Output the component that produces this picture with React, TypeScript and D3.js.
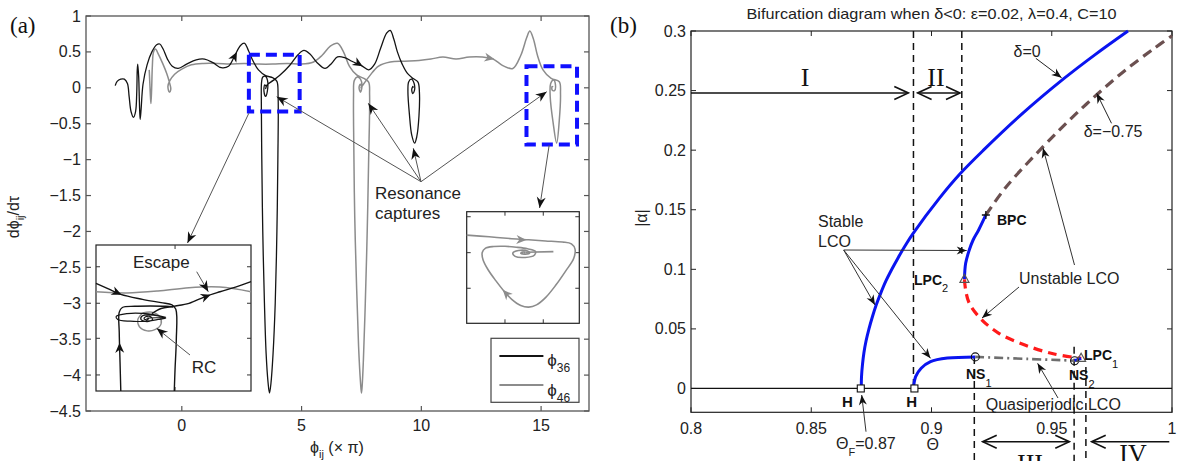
import React from 'react';
import * as d3 from 'd3';

type P = [number, number];

// ---------- panel (a): phase trajectories ----------
const phiTicks = [0, 5, 10, 15];
const dphiTicks = [1, 0.5, 0, -0.5, -1, -1.5, -2, -2.5, -3, -3.5, -4, -4.5];

// phi_36 trajectory (phi in units of pi, dphi/dtau)
const phi36: P[] = [
  [-2.78, 0.03], [-2.7, 0.09], [-2.55, 0.12], [-2.4, 0.12], [-2.27, 0.06], [-2.2, -0.12], [-2.12, -0.33],
  [-2.02, -0.41], [-1.93, -0.33], [-1.88, -0.05], [-1.86, 0.25], [-1.84, 0.33], [-1.8, 0.15], [-1.77, -0.2],
  [-1.74, -0.44], [-1.7, -0.3], [-1.62, 0.05], [-1.45, 0.32], [-1.25, 0.5], [-1.05, 0.6], [-0.92, 0.61],
  [-0.78, 0.54], [-0.6, 0.4], [-0.4, 0.3], [-0.15, 0.27], [0.2, 0.33], [0.6, 0.39], [0.95, 0.4], [1.3, 0.35],
  [1.65, 0.28], [1.95, 0.3], [2.2, 0.44], [2.45, 0.59], [2.62, 0.62], [2.78, 0.52], [2.98, 0.37], [3.2, 0.25],
  [3.5, 0.17], [3.8, 0.14], [3.97, 0.09], [4.02, -0.12], [4.01, -1.0], [3.97, -2.0], [3.9, -3.0], [3.81, -3.7],
  [3.72, -4.12], [3.66, -4.25], [3.6, -4.1], [3.52, -3.7], [3.45, -3.0], [3.38, -2.0], [3.34, -1.0],
  [3.32, -0.2], [3.33, 0.08], [3.38, 0.15], [3.5, 0.16], [3.58, 0.1], [3.57, -0.05], [3.5, -0.12],
  [3.43, -0.05], [3.46, 0.04], [3.52, 0.02], [3.5, -0.01],
  [3.56, 0.04], [3.8, 0.1], [4.08, 0.17], [4.5, 0.31], [4.85, 0.46], [5.1, 0.52], [5.35, 0.47], [5.65, 0.35],
  [5.98, 0.27], [6.25, 0.34], [6.5, 0.43], [6.8, 0.42], [7.1, 0.37], [7.5, 0.31], [7.8, 0.25], [8.05, 0.33],
  [8.3, 0.55], [8.55, 0.76], [8.7, 0.8], [8.85, 0.68], [9.0, 0.5], [9.2, 0.33], [9.42, 0.2], [9.66, 0.13],
  [9.86, 0.08], [9.92, -0.06], [9.9, -0.4], [9.81, -0.68], [9.72, -0.77], [9.6, -0.66], [9.5, -0.36],
  [9.44, -0.05], [9.47, 0.08], [9.58, 0.12], [9.7, 0.06], [9.71, -0.04], [9.64, -0.08], [9.6, -0.02],
  [9.65, 0.02], [9.66, 0.0],
];

// phi_46 trajectory
const phi46: P[] = [
  [-1.36, 0.25], [-1.32, -0.05], [-1.29, -0.22], [-1.26, -0.02], [-1.23, 0.3], [-1.18, 0.5], [-1.1, 0.54],
  [-0.98, 0.47], [-0.8, 0.34], [-0.63, 0.2], [-0.52, 0.08], [-0.46, -0.02], [-0.52, -0.06], [-0.58, 0.02],
  [-0.5, 0.1], [-0.3, 0.19], [0.0, 0.26], [0.4, 0.32], [0.9, 0.34], [1.5, 0.34], [2.0, 0.33], [2.6, 0.34],
  [3.2, 0.33], [3.8, 0.33], [4.4, 0.34], [5.0, 0.33], [5.5, 0.36], [5.85, 0.45], [6.2, 0.58], [6.5, 0.62],
  [6.75, 0.5], [7.0, 0.3], [7.3, 0.18], [7.6, 0.13], [7.8, 0.08], [7.84, -0.1], [7.8, -1.0], [7.74, -2.0],
  [7.66, -3.0], [7.58, -3.8], [7.53, -4.15], [7.5, -4.25], [7.46, -4.1], [7.38, -3.6], [7.3, -2.8],
  [7.22, -1.8], [7.18, -0.8], [7.17, -0.1], [7.2, 0.1], [7.32, 0.15], [7.46, 0.12], [7.52, 0.02],
  [7.46, -0.06], [7.4, 0.0], [7.45, 0.05], [7.5, 0.02], [7.48, 0.0],
  [7.56, 0.04], [7.85, 0.17], [8.2, 0.3], [8.7, 0.36], [9.3, 0.37], [9.9, 0.38], [10.4, 0.4], [10.9, 0.43],
  [11.45, 0.4], [12.0, 0.43], [12.55, 0.43], [13.0, 0.4], [13.4, 0.31], [13.82, 0.27], [14.15, 0.45],
  [14.4, 0.7], [14.53, 0.79], [14.68, 0.68], [14.85, 0.45], [15.08, 0.25], [15.42, 0.13], [15.76, 0.085],
  [15.81, -0.08], [15.76, -0.45], [15.65, -0.77], [15.5, -0.48], [15.38, -0.12], [15.4, 0.06],
  [15.52, 0.11], [15.6, 0.04], [15.56, -0.04], [15.46, -0.03], [15.46, 0.02], [15.5, 0.01],
];

// direction arrows on the trajectories: [from, to]
const arrows36: [P, P][] = [[[2.1, 0.37], [2.3, 0.5]], [[7.3, 0.35], [7.55, 0.3]]];
const arrows46: [P, P][] = [[[12.75, 0.42], [13.05, 0.4]]];

// resonance capture regions: [phi0, phi1, v0, v1]
const captureBoxes = [[2.8, 4.92, -0.33, 0.46], [14.39, 16.5, -0.79, 0.3]];

// inset 1 (normalised 0..1 inset coordinates)
const in1Grey: P[] = [[0, 0.68], [0.2, 0.672], [0.4, 0.685], [0.6, 0.708], [0.8, 0.712], [1, 0.68]];
const in1Incoming: P[] = [[0, 0.737], [0.08, 0.7], [0.16, 0.662], [0.3, 0.628], [0.42, 0.605], [0.49, 0.59],
  [0.515, 0.56], [0.518, 0.35], [0.51, 0.15], [0.505, 0]];
const in1Return: P[] = [[0.16, 0], [0.155, 0.2], [0.15, 0.4], [0.15, 0.54], [0.17, 0.572], [0.25, 0.58],
  [0.35, 0.582], [0.45, 0.58], [0.5, 0.575]];
const in1Oval: P[] = [[0.45, 0.505], [0.38, 0.522], [0.3, 0.532], [0.2, 0.53], [0.13, 0.51], [0.14, 0.49],
  [0.22, 0.478], [0.32, 0.478], [0.4, 0.49], [0.45, 0.5], [0.37, 0.52], [0.3, 0.515], [0.29, 0.49],
  [0.33, 0.475], [0.365, 0.49], [0.35, 0.51], [0.32, 0.508], [0.31, 0.495], [0.33, 0.488], [0.34, 0.498],
  [0.328, 0.5], [0.44, 0.503]];
const in1Tear: P[] = [[0.3, 0.535], [0.27, 0.49], [0.28, 0.44], [0.33, 0.412], [0.38, 0.42], [0.42, 0.46],
  [0.41, 0.51], [0.36, 0.54], [0.3, 0.535]];
const in1Escape: P[] = [[0.36, 0.53], [0.42, 0.565], [0.5, 0.58], [0.6, 0.6], [0.7, 0.645], [0.8, 0.68],
  [0.9, 0.712], [1, 0.749]];
const in1Arrows: [P, P][] = [[[0.09, 0.695], [0.165, 0.66]], [[0.66, 0.628], [0.74, 0.66]], [[0.153, 0.25], [0.152, 0.33]]];
const in1TicksV = [0.11, 0.361, 0.601, 0.851];
const in1TicksU = [0.51];

// inset 2
const in2Grey: P[] = [[0, 0.79], [0.2, 0.775], [0.4, 0.758], [0.55, 0.748], [0.7, 0.738], [0.85, 0.728],
  [0.93, 0.712], [0.962, 0.665], [0.95, 0.58], [0.88, 0.47], [0.79, 0.34], [0.7, 0.23], [0.62, 0.165],
  [0.55, 0.145], [0.48, 0.16], [0.4, 0.215], [0.33, 0.29], [0.26, 0.38], [0.19, 0.48], [0.145, 0.57],
  [0.138, 0.635], [0.165, 0.672], [0.24, 0.688], [0.34, 0.69], [0.44, 0.682], [0.54, 0.668], [0.61, 0.645],
  [0.6, 0.61], [0.52, 0.59], [0.43, 0.6], [0.41, 0.63], [0.46, 0.652], [0.54, 0.648], [0.56, 0.632],
  [0.52, 0.62], [0.48, 0.628], [0.5, 0.64], [0.52, 0.635]];
const in2Tail: P[] = [[0.52, 0.636], [0.77, 0.642]];
const in2Arrows: [P, P][] = [[[0.44, 0.752], [0.53, 0.747]], [[0.38, 0.235], [0.32, 0.3]]];
const in2TicksV = [0.314, 0.633, 0.955];
const in2TicksU = [0.34, 0.68];

const legendSeries = [
  { sub: '36', color: '#141414' },
  { sub: '46', color: '#8c8c8c' },
];

// ---------- panel (b): bifurcation diagram ----------
const thetaTicks = [0.8, 0.85, 0.9, 0.95, 1];
const alphaTicks = [0, 0.05, 0.1, 0.15, 0.2, 0.25, 0.3];

const stableD0: P[] = [[0.8708, 0], [0.8709, 0.01], [0.8713, 0.02], [0.8719, 0.03], [0.8728, 0.04],
  [0.874, 0.05], [0.8754, 0.06], [0.877, 0.07], [0.8789, 0.08], [0.881, 0.09], [0.8835, 0.1], [0.8862, 0.11],
  [0.8891, 0.12], [0.8923, 0.13], [0.9034, 0.16], [0.9118, 0.18], [0.9216, 0.2], [0.9374, 0.23],
  [0.955, 0.26], [0.9679, 0.28], [0.9817, 0.3]];
const unstableD075: P[] = [[0.9226, 0.1456], [0.9311, 0.1693], [0.9464, 0.2029], [0.958, 0.2265],
  [0.9687, 0.2465], [0.9802, 0.2665], [0.9925, 0.2853], [1.0, 0.296]];
const stableLpc2: P[] = [[0.9137, 0.0916], [0.9142, 0.105], [0.9157, 0.1162], [0.9173, 0.1246],
  [0.9196, 0.133], [0.9226, 0.1456]];
const unstableLco: P[] = [[0.9137, 0.0916], [0.9142, 0.0826], [0.9157, 0.0715], [0.9203, 0.0589],
  [0.928, 0.0463], [0.9388, 0.0365], [0.951, 0.0289], [0.9623, 0.0253]];
const stableLow: P[] = [[0.8925, 0], [0.8934, 0.0099], [0.8957, 0.017], [0.8996, 0.0225], [0.9066, 0.0255],
  [0.9182, 0.0265]];
const quasiLco: P[] = [[0.9182, 0.0265], [0.94, 0.0248], [0.9595, 0.0233]];
const stableTail: P[] = [[0.9595, 0.0233], [0.9622, 0.0253]];

const hopfPts: P[] = [[0.8706, 0], [0.8929, 0]];
const nsPts: P[] = [[0.9182, 0.0265], [0.9595, 0.0233]];
const lpcPts: P[] = [[0.9137, 0.0916], [0.9622, 0.0253]];
const bpcPts: P[] = [[0.9226, 0.1456]];

// regime boundaries: [theta, alpha from, alpha to]
const upperBounds = [[0.8925, 0.3, 0], [0.9126, 0.3, 0.113]];
const lowerBounds = [[0.9178, 0.0265], [0.9593, 0.035], [0.9642, 0.018]];

const W = 1179;
const H = 461;
const SANS = '"Liberation Sans", Arial, Helvetica, sans-serif';
const SERIF = '"Liberation Serif", "Times New Roman", serif';
const BLUE = '#0a14f0';

const fmt = (v: number) => (v < 0 ? '\u2212' + Math.abs(v) : String(v));

function Head({ id, fill, len = 11, half = 4.5 }: { id: string; fill: string; len?: number; half?: number }) {
  return (
    <marker id={id} viewBox={`${-len - 1} ${-half - 1} ${len + 2} ${2 * half + 2}`} refX={0} refY={0}
      markerWidth={len + 2} markerHeight={2 * half + 2} markerUnits="userSpaceOnUse" orient="auto">
      <path d={`M0,0 L${-len},${-half} L${-len * 0.7},0 L${-len},${half} Z`} fill={fill} />
    </marker>
  );
}

export default function App() {
  const xA = d3.scaleLinear().domain([-4, 17]).range([86, 589]);
  const yA = d3.scaleLinear().domain([-4.5, 1]).range([411, 16]);
  const xB = d3.scaleLinear().domain([0.8, 1]).range([691, 1172]);
  const yB = d3.scaleLinear().domain([-0.02, 0.3]).range([412.3, 31]);
  const ix1 = d3.scaleLinear().domain([0, 1]).range([96, 251]);
  const iy1 = d3.scaleLinear().domain([0, 1]).range([391, 245]);
  const ix2 = d3.scaleLinear().domain([0, 1]).range([466.7, 579.3]);
  const iy2 = d3.scaleLinear().domain([0, 1]).range([323.3, 211.7]);

  const mk = (x: d3.ScaleLinear<number, number>, y: d3.ScaleLinear<number, number>) =>
    d3.line<P>().x(d => x(d[0])).y(d => y(d[1])).curve(d3.curveCatmullRom.alpha(0.5));
  const lA = mk(xA, yA);
  const lB = mk(xB, yB);
  const l1 = mk(ix1, iy1);
  const l2 = mk(ix2, iy2);
  const seg = d3.line<P>().x(d => d[0]).y(d => d[1]);

  const dirArrows = (arr: [P, P][], line: d3.Line<P>, id: string) =>
    arr.map((a, i) => (
      <path key={id + i} d={line(a) || ''} fill="none" stroke="none" markerEnd={`url(#${id})`} />
    ));

  const annot = (x1: number, y1: number, x2: number, y2: number, color = '#555', head = 'headA') => (
    <line x1={x1} y1={y1} x2={x2} y2={y2} stroke={color} strokeWidth={1} markerEnd={`url(#${head})`} />
  );

  const axA = '#555';

  return (
    <svg width={W} height={H} style={{ position: 'absolute', left: 0, top: 0 }} fontFamily={SANS}>
      <defs>
        <Head id="headA" fill="#111" len={11} half={4.5} />
        <Head id="headB" fill="#111" len={10} half={4} />
        <Head id="tBlack" fill="#111" len={10} half={4.5} />
        <Head id="tGrey" fill="#8c8c8c" len={10} half={4.5} />
        <marker id="chev" viewBox="-16 -8 18 16" refX={0} refY={0} markerWidth={18} markerHeight={16}
          markerUnits="userSpaceOnUse" orient="auto-start-reverse">
          <path d="M-14,-6.5 L0,0 L-14,6.5" fill="none" stroke="#111" strokeWidth={1.6} />
        </marker>
      </defs>
      <rect x={0} y={0} width={W} height={H} fill="#fff" />

      {/* ================= panel (a) ================= */}
      <text x={10} y={33} fontFamily={SERIF} fontSize={23} fill="#111">(a)</text>
      <rect x={xA(-4)} y={yA(1)} width={xA(17) - xA(-4)} height={yA(-4.5) - yA(1)} fill="none" stroke={axA} strokeWidth={1.3} />
      {phiTicks.map(t => (
        <g key={'xa' + t}>
          <line x1={xA(t)} x2={xA(t)} y1={yA(-4.5)} y2={yA(-4.5) - 5} stroke={axA} strokeWidth={1.2} />
          <line x1={xA(t)} x2={xA(t)} y1={yA(1)} y2={yA(1) + 5} stroke={axA} strokeWidth={1.2} />
          <text x={xA(t)} y={431} textAnchor="middle" fontSize={16} fill="#222">{t}</text>
        </g>
      ))}
      {dphiTicks.map(t => (
        <g key={'ya' + t}>
          <line x1={xA(-4)} x2={xA(-4) + 5} y1={yA(t)} y2={yA(t)} stroke={axA} strokeWidth={1.2} />
          <line x1={xA(17)} x2={xA(17) - 5} y1={yA(t)} y2={yA(t)} stroke={axA} strokeWidth={1.2} />
          <text x={81} y={yA(t) + 5.5} textAnchor="end" fontSize={16} fill="#222">{fmt(t)}</text>
        </g>
      ))}
      <text x={310} y={453} fontSize={16} fill="#222">
        {'\u03d5'}<tspan dy={5} fontSize={11}>ij</tspan><tspan dy={-5}>{' (\u00d7 \u03c0)'}</tspan>
      </text>
      <text transform="translate(19,217) rotate(-90)" textAnchor="middle" fontSize={16} fill="#222">
        {'d\u03d5'}<tspan dy={5} fontSize={11}>ij</tspan><tspan dy={-5}>{'/d\u03c4'}</tspan>
      </text>

      <path d={lA(phi46) || ''} fill="none" stroke="#8c8c8c" strokeWidth={1.5} />
      <path d={lA(phi36) || ''} fill="none" stroke="#141414" strokeWidth={1.3} />
      {dirArrows(arrows36.map(a => a.map(p => [xA(p[0]), yA(p[1])] as P) as [P, P]), seg, 'tBlack')}
      {dirArrows(arrows46.map(a => a.map(p => [xA(p[0]), yA(p[1])] as P) as [P, P]), seg, 'tGrey')}

      {captureBoxes.map((b, i) => (
        <rect key={'cb' + i} x={xA(b[0])} y={yA(b[3])} width={xA(b[1]) - xA(b[0])} height={yA(b[2]) - yA(b[3])}
          fill="none" stroke="#1010ff" strokeWidth={4} strokeDasharray="11,6" />
      ))}

      {/* resonance capture annotation */}
      <text x={375} y={198.5} fontSize={17} fill="#222">Resonance</text>
      <text x={375} y={219} fontSize={17} fill="#222">captures</text>
      {annot(421, 181.7, 276.7, 96.7)}
      {annot(421, 181.7, 368.3, 103.3)}
      {annot(421, 181.7, 413.3, 148.3)}
      {annot(421, 181.7, 546.7, 91.7)}
      {annot(248.8, 113.3, 187.5, 243)}
      {annot(549.2, 145, 539.6, 208)}

      {/* inset 1 */}
      <rect x={ix1(0)} y={iy1(1)} width={ix1(1) - ix1(0)} height={iy1(0) - iy1(1)} fill="#fff" stroke="#222" strokeWidth={1.2} />
      {in1TicksV.map(t => (
        <g key={'i1v' + t}>
          <line x1={ix1(0)} x2={ix1(0) + 4} y1={iy1(t)} y2={iy1(t)} stroke="#333" />
          <line x1={ix1(1)} x2={ix1(1) - 4} y1={iy1(t)} y2={iy1(t)} stroke="#333" />
        </g>
      ))}
      {in1TicksU.map(t => (
        <g key={'i1u' + t}>
          <line x1={ix1(t)} x2={ix1(t)} y1={iy1(1)} y2={iy1(1) + 4} stroke="#333" />
          <line x1={ix1(t)} x2={ix1(t)} y1={iy1(0)} y2={iy1(0) - 4} stroke="#333" />
        </g>
      ))}
      <path d={l1(in1Grey) || ''} fill="none" stroke="#8c8c8c" strokeWidth={1.5} />
      <path d={l1(in1Tear) || ''} fill="none" stroke="#8c8c8c" strokeWidth={1.4} />
      <path d={l1(in1Incoming) || ''} fill="none" stroke="#141414" strokeWidth={1.4} />
      <path d={l1(in1Return) || ''} fill="none" stroke="#141414" strokeWidth={1.4} />
      <path d={l1(in1Oval) || ''} fill="none" stroke="#141414" strokeWidth={1.2} />
      <path d={l1(in1Escape) || ''} fill="none" stroke="#141414" strokeWidth={1.4} />
      {dirArrows(in1Arrows.map(a => a.map(p => [ix1(p[0]), iy1(p[1])] as P) as [P, P]), seg, 'tBlack')}
      <text x={133} y={267.5} fontSize={17} fill="#222">Escape</text>
      {annot(196.7, 271.7, 208.3, 291.7)}
      <text x={191.7} y={372.5} fontSize={17} fill="#222">RC</text>
      {annot(190, 355, 156.7, 328.3)}

      {/* inset 2 */}
      <rect x={ix2(0)} y={iy2(1)} width={ix2(1) - ix2(0)} height={iy2(0) - iy2(1)} fill="#fff" stroke="#222" strokeWidth={1.2} />
      {in2TicksV.map(t => (
        <g key={'i2v' + t}>
          <line x1={ix2(0)} x2={ix2(0) + 4} y1={iy2(t)} y2={iy2(t)} stroke="#333" />
          <line x1={ix2(1)} x2={ix2(1) - 4} y1={iy2(t)} y2={iy2(t)} stroke="#333" />
        </g>
      ))}
      {in2TicksU.map(t => (
        <g key={'i2u' + t}>
          <line x1={ix2(t)} x2={ix2(t)} y1={iy2(1)} y2={iy2(1) + 4} stroke="#333" />
          <line x1={ix2(t)} x2={ix2(t)} y1={iy2(0)} y2={iy2(0) - 4} stroke="#333" />
        </g>
      ))}
      <path d={l2(in2Grey) || ''} fill="none" stroke="#8c8c8c" strokeWidth={1.6} />
      <path d={l2(in2Tail) || ''} fill="none" stroke="#8c8c8c" strokeWidth={1.6} />
      {dirArrows(in2Arrows.map(a => a.map(p => [ix2(p[0]), iy2(p[1])] as P) as [P, P]), seg, 'tGrey')}

      {/* legend */}
      <rect x={491} y={338.3} width={88} height={64} fill="#fff" stroke="#444" strokeWidth={1.2} />
      {legendSeries.map((s, i) => (
        <g key={s.sub}>
          <line x1={499.4} x2={543.4} y1={356 + i * 29} y2={356 + i * 29} stroke={s.color} strokeWidth={2} />
          <text x={547.3} y={366 + i * 30} fontSize={17} fill="#222">
            {'\u03d5'}<tspan dy={6} fontSize={12}>{s.sub}</tspan>
          </text>
        </g>
      ))}

      {/* ================= panel (b) ================= */}
      <text x={610} y={33} fontFamily={SERIF} fontSize={23} fill="#111">(b)</text>
      <text x={931.5} y={19} textAnchor="middle" fontSize={15} fill="#222" textLength={370} lengthAdjust="spacingAndGlyphs">
        {'Bifurcation diagram when \u03b4<0: \u03b5=0.02, \u03bb=0.4, C=10'}
      </text>
      <rect x={xB(0.8)} y={yB(0.3)} width={xB(1) - xB(0.8)} height={yB(-0.02) - yB(0.3)} fill="none" stroke="#222" strokeWidth={1.2} />
      {thetaTicks.map(t => (
        <g key={'xb' + t}>
          <line x1={xB(t)} x2={xB(t)} y1={yB(-0.02)} y2={yB(-0.02) - 5} stroke="#222" />
          <line x1={xB(t)} x2={xB(t)} y1={yB(0.3)} y2={yB(0.3) + 5} stroke="#222" />
          <text x={xB(t)} y={434} textAnchor="middle" fontSize={16} fill="#222">{t}</text>
        </g>
      ))}
      {alphaTicks.map(t => (
        <g key={'yb' + t}>
          <line x1={xB(0.8)} x2={xB(0.8) + 5} y1={yB(t)} y2={yB(t)} stroke="#222" />
          <line x1={xB(1)} x2={xB(1) - 5} y1={yB(t)} y2={yB(t)} stroke="#222" />
          <text x={686} y={yB(t) + 5.5} textAnchor="end" fontSize={16} fill="#222">{t}</text>
        </g>
      ))}
      <text transform="translate(647,218) rotate(-90)" textAnchor="middle" fontSize={16} fill="#222">|{'\u03b1'}|</text>
      <text x={932.7} y={450} textAnchor="middle" fontSize={16} fill="#222">{'\u0398'}</text>
      <text x={836} y={449} fontSize={16} fill="#222">
        {'\u0398'}<tspan dy={7} fontSize={11}>F</tspan><tspan dy={-7}>=0.87</tspan>
      </text>

      <line x1={xB(0.8)} x2={xB(1)} y1={yB(0)} y2={yB(0)} stroke="#111" strokeWidth={1.2} />

      {/* regime boundaries */}
      {upperBounds.map((b, i) => (
        <line key={'ub' + i} x1={xB(b[0])} x2={xB(b[0])} y1={yB(b[1])} y2={yB(b[2])} stroke="#111" strokeWidth={1.5} strokeDasharray="7,5" />
      ))}
      {lowerBounds.map((b, i) => (
        <line key={'lb' + i} x1={xB(b[0])} x2={xB(b[0])} y1={yB(b[1])} y2={H} stroke="#111" strokeWidth={1.5} strokeDasharray="7,5" />
      ))}

      {/* branches */}
      <path d={lB(unstableD075) || ''} fill="none" stroke="#6b5050" strokeWidth={3.2} strokeDasharray="10,6" />
      <path d={lB(stableD0) || ''} fill="none" stroke={BLUE} strokeWidth={3} />
      <path d={lB(stableLpc2) || ''} fill="none" stroke={BLUE} strokeWidth={3} />
      <path d={lB(unstableLco) || ''} fill="none" stroke="#ff1a1a" strokeWidth={3.2} strokeDasharray="9,6" />
      <path d={lB(stableLow) || ''} fill="none" stroke={BLUE} strokeWidth={3} />
      <path d={lB(quasiLco) || ''} fill="none" stroke="#6e6e6e" strokeWidth={2.6} strokeDasharray="9,4,2,4" />
      <path d={lB(stableTail) || ''} fill="none" stroke={BLUE} strokeWidth={3} />

      {hopfPts.map((p, i) => (
        <rect key={'h' + i} x={xB(p[0]) - 3.5} y={yB(p[1]) - 3.5} width={7} height={7} fill="#fff" stroke="#111" strokeWidth={1.1} />
      ))}
      {nsPts.map((p, i) => (
        <circle key={'ns' + i} cx={xB(p[0])} cy={yB(p[1])} r={4} fill="none" stroke="#111" strokeWidth={1.1} />
      ))}
      {lpcPts.map((p, i) => (
        <path key={'lpc' + i} d={`M${xB(p[0])},${yB(p[1]) - 5} l4.5,8 h-9 Z`} fill="none" stroke="#555" strokeWidth={1.2} />
      ))}
      {bpcPts.map((p, i) => (
        <path key={'bpc' + i} d={`M${xB(p[0]) - 4},${yB(p[1])} h8 M${xB(p[0])},${yB(p[1]) - 4} v8`} stroke="#111" strokeWidth={1.3} />
      ))}

      {/* regimes I - IV */}
      <text x={805} y={86} textAnchor="middle" fontFamily={SERIF} fontSize={26} fill="#111">I</text>
      <text x={936} y={86} textAnchor="middle" fontFamily={SERIF} fontSize={26} fill="#111">II</text>
      <line x1={xB(0.8)} x2={908.3} y1={yB(0.248)} y2={yB(0.248)} stroke="#111" strokeWidth={1.5} markerEnd="url(#chev)" />
      <line x1={917.6} x2={960} y1={yB(0.248)} y2={yB(0.248)} stroke="#111" strokeWidth={1.5} markerStart="url(#chev)" markerEnd="url(#chev)" />
      <line x1={982.7} x2={1069.3} y1={441.7} y2={441.7} stroke="#111" strokeWidth={1.5} markerStart="url(#chev)" markerEnd="url(#chev)" />
      <line x1={1169.3} x2={1091.7} y1={441.7} y2={441.7} stroke="#111" strokeWidth={1.5} markerEnd="url(#chev)" />
      <text x={1030} y={472} textAnchor="middle" fontFamily={SERIF} fontSize={26} fill="#111">III</text>
      <text x={1133} y={462} textAnchor="middle" fontFamily={SERIF} fontSize={26} fill="#111">IV</text>

      {/* labels and annotation arrows */}
      <text x={1013.6} y={57} fontSize={16} fill="#222">{'\u03b4=0'}</text>
      {annot(1035.8, 58.3, 1061.6, 77.7, '#222', 'headB')}
      <text x={1083.7} y={137} fontSize={16} fill="#222">{'\u03b4=\u22120.75'}</text>
      {annot(1111.5, 123.3, 1096.7, 93.3, '#222', 'headB')}
      <text x={997} y={225} fontSize={14} fontWeight="bold" fill="#111">BPC</text>
      <text x={818} y={227} fontSize={16} fill="#222">Stable</text>
      <text x={818} y={246.5} fontSize={16} fill="#222">LCO</text>
      {annot(843.7, 250, 966.7, 250.5, '#333', 'headB')}
      {annot(843.7, 250, 875, 305, '#333', 'headB')}
      {annot(843.7, 250, 930.5, 358.3, '#333', 'headB')}
      <text x={914} y={285} fontSize={14} fontWeight="bold" fill="#111">
        LPC<tspan dy={7} fontSize={11} fontWeight="normal">2</tspan>
      </text>
      <text x={1019} y={283.5} fontSize={16} fill="#222">Unstable LCO</text>
      {annot(1074.5, 265, 1043, 148, '#333', 'headB')}
      {annot(1019, 287, 982, 318, '#333', 'headB')}
      <text x={1084} y={360} fontSize={14} fontWeight="bold" fill="#111">
        LPC<tspan dy={8} fontSize={11} fontWeight="normal">1</tspan>
      </text>
      <text x={966} y={379} fontSize={14} fontWeight="bold" fill="#111">
        NS<tspan dy={8} fontSize={11} fontWeight="normal">1</tspan>
      </text>
      <text x={1069} y={380} fontSize={14} fontWeight="bold" fill="#111">
        NS<tspan dy={8} fontSize={11} fontWeight="normal">2</tspan>
      </text>
      <text x={847.3} y={407} textAnchor="middle" fontSize={15} fontWeight="bold" fill="#111">H</text>
      <text x={911.7} y={407} textAnchor="middle" fontSize={15} fontWeight="bold" fill="#111">H</text>
      {annot(866, 431.7, 861.7, 395, '#333', 'headB')}
      <text x={985.7} y={409.5} fontSize={16} fill="#222">Quasiperiodic LCO</text>
      {annot(1058, 398, 1037.6, 363.3, '#333', 'headB')}
    </svg>
  );
}
